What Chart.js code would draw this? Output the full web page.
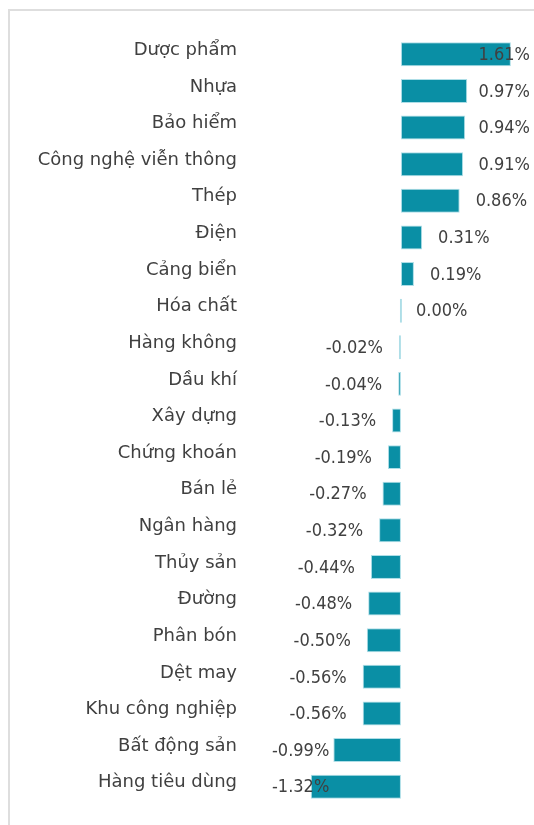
<!DOCTYPE html>
<html>
<head>
<meta charset="utf-8">
<script src="https://cdn.jsdelivr.net/npm/chart.js@4.4.1/dist/chart.umd.min.js"></script>
<style>
    html, body { margin: 0; padding: 0; background: #fff; overflow: hidden; }
    canvas { display: block; }
</style>
</head>
<body>
<canvas id="c" width="534" height="825"></canvas>
<script>
(function () {
    'use strict';

    var SECTORS = [
        'Dược phẩm', 'Nhựa', 'Bảo hiểm', 'Công nghệ viễn thông', 'Thép',
        'Điện', 'Cảng biển', 'Hóa chất', 'Hàng không', 'Dầu khí',
        'Xây dựng', 'Chứng khoán', 'Bán lẻ', 'Ngân hàng', 'Thủy sản',
        'Đường', 'Phân bón', 'Dệt may', 'Khu công nghiệp', 'Bất động sản',
        'Hàng tiêu dùng'
    ];
    var CHANGE_PCT = [
        1.61, 0.97, 0.94, 0.91, 0.86,
        0.31, 0.19, 0.00, -0.02, -0.04,
        -0.13, -0.19, -0.27, -0.32, -0.44,
        -0.48, -0.50, -0.56, -0.56, -0.99,
        -1.32
    ];

    var BAR = '#0a8fa5';
    var TEXT = '#404040';
    var VALUE_FONT = '"DejaVu Sans Condensed", "DejaVu Sans", sans-serif';
    var CAT_FONT = '"DejaVu Sans", sans-serif';
    var LABEL_GAP = 16;
    var LABEL_MIN_X = 272;
    var LABEL_MAX_X = 530;

    // light frame on the top and left edge, like the pasted spreadsheet chart
    var frame = {
        id: 'frame',
        beforeDraw: function (chart) {
            var ctx = chart.ctx;
            ctx.save();
            ctx.fillStyle = '#fff';
            ctx.fillRect(0, 0, chart.width, chart.height);
            ctx.strokeStyle = '#dedede';
            ctx.lineWidth = 2;
            ctx.beginPath();
            ctx.moveTo(9, chart.height);
            ctx.lineTo(9, 10);
            ctx.lineTo(chart.width, 10);
            ctx.stroke();
            ctx.restore();
        }
    };

    var valueLabels = {
        id: 'valueLabels',
        afterDatasetsDraw: function (chart) {
            var ctx = chart.ctx;
            var meta = chart.getDatasetMeta(0);
            ctx.save();
            ctx.font = '18px ' + VALUE_FONT;
            ctx.fillStyle = TEXT;
            ctx.textBaseline = 'middle';
            ctx.textAlign = 'left';
            for (var i = 0; i < meta.data.length; i++) {
                var bar = meta.data[i];
                var v = CHANGE_PCT[i];
                var txt = v.toFixed(2) + '%';
                var w = ctx.measureText(txt).width;
                var left;
                if (v >= 0) {
                    left = bar.x + LABEL_GAP;
                    if (left + w > LABEL_MAX_X) {
                        left = LABEL_MAX_X - w;
                    }
                } else {
                    left = bar.x - LABEL_GAP - w;
                    if (left < LABEL_MIN_X) {
                        left = LABEL_MIN_X;
                    }
                }
                ctx.fillText(txt, left, bar.y + 1);
            }
            ctx.restore();
        }
    };

    new Chart(document.getElementById('c'), {
        type: 'bar',
        data: {
            labels: SECTORS,
            datasets: [{
                data: CHANGE_PCT,
                backgroundColor: function (c) {
                    return CHANGE_PCT[c.dataIndex] === 0 ? '#cfe9f0' : BAR;
                },
                borderColor: 'rgba(120,200,215,0.6)',
                borderWidth: 1,
                borderSkipped: false,
                minBarLength: 2,
                barPercentage: 0.655,
                categoryPercentage: 1
            }]
        },
        options: {
            indexAxis: 'y',
            responsive: false,
            animation: false,
            events: [],
            layout: { padding: { top: 36, bottom: 20, left: 0, right: 4 } },
            plugins: {
                legend: { display: false },
                tooltip: { enabled: false }
            },
            scales: {
                x: {
                    display: false,
                    min: -2.284,
                    max: 1.89
                },
                y: {
                    grid: { display: false, drawTicks: false },
                    border: { display: false },
                    ticks: {
                        color: TEXT,
                        font: { family: CAT_FONT, size: 18 },
                        padding: 8,
                        labelOffset: -4
                    },
                    afterFit: function (scale) {
                        scale.width = 245;
                    }
                }
            }
        },
        plugins: [frame, valueLabels]
    });
})();
</script>
</body>
</html>
